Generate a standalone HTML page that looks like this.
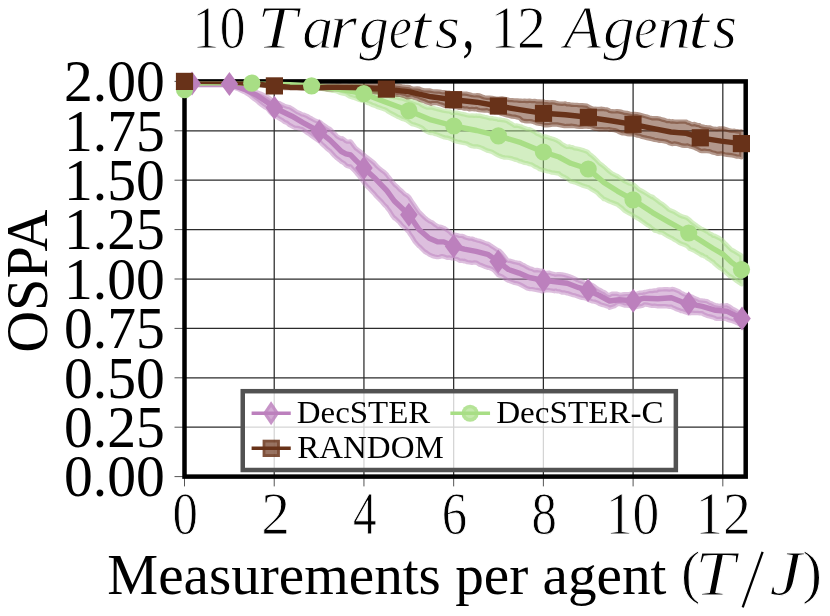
<!DOCTYPE html>
<html><head><meta charset="utf-8"><title>chart</title>
<style>html,body{margin:0;padding:0;background:#fff}body{width:830px;height:616px;overflow:hidden;font-family:"Liberation Serif",serif}</style></head>
<body>
<svg width="830" height="616" viewBox="0 0 830 616" style="display:block">
<rect width="830" height="616" fill="#fff"/>
<g stroke="#2b2b2b" stroke-width="1.25"><line x1="274.22" y1="81.4" x2="274.22" y2="476.6"/><line x1="363.94" y1="81.4" x2="363.94" y2="476.6"/><line x1="453.66" y1="81.4" x2="453.66" y2="476.6"/><line x1="543.38" y1="81.4" x2="543.38" y2="476.6"/><line x1="633.10" y1="81.4" x2="633.10" y2="476.6"/><line x1="722.82" y1="81.4" x2="722.82" y2="476.6"/><line x1="184.5" y1="427.20" x2="745.7" y2="427.20"/><line x1="184.5" y1="377.80" x2="745.7" y2="377.80"/><line x1="184.5" y1="328.40" x2="745.7" y2="328.40"/><line x1="184.5" y1="279.00" x2="745.7" y2="279.00"/><line x1="184.5" y1="229.60" x2="745.7" y2="229.60"/><line x1="184.5" y1="180.20" x2="745.7" y2="180.20"/><line x1="184.5" y1="130.80" x2="745.7" y2="130.80"/></g>
<g stroke="#555" stroke-width="1"><line x1="184.50" y1="476.6" x2="184.50" y2="486.40000000000003"/><line x1="274.22" y1="476.6" x2="274.22" y2="486.40000000000003"/><line x1="363.94" y1="476.6" x2="363.94" y2="486.40000000000003"/><line x1="453.66" y1="476.6" x2="453.66" y2="486.40000000000003"/><line x1="543.38" y1="476.6" x2="543.38" y2="486.40000000000003"/><line x1="633.10" y1="476.6" x2="633.10" y2="486.40000000000003"/><line x1="722.82" y1="476.6" x2="722.82" y2="486.40000000000003"/><line x1="174.5" y1="476.60" x2="184.5" y2="476.60"/><line x1="174.5" y1="427.20" x2="184.5" y2="427.20"/><line x1="174.5" y1="377.80" x2="184.5" y2="377.80"/><line x1="174.5" y1="328.40" x2="184.5" y2="328.40"/><line x1="174.5" y1="279.00" x2="184.5" y2="279.00"/><line x1="174.5" y1="229.60" x2="184.5" y2="229.60"/><line x1="174.5" y1="180.20" x2="184.5" y2="180.20"/><line x1="174.5" y1="130.80" x2="184.5" y2="130.80"/><line x1="174.5" y1="81.40" x2="184.5" y2="81.40"/></g>
<defs><filter id="gs" x="-5%" y="-20%" width="110%" height="140%" color-interpolation-filters="sRGB"><feColorMatrix type="saturate" values="0"/></filter><clipPath id="ax"><rect x="184.5" y="81.4" width="561.2" height="395.2"/></clipPath></defs>
<g clip-path="url(#ax)">
<path d="M192.0,83.0 L194.5,83.2 L197.0,83.2 L199.5,83.4 L200.0,83.3 L202.0,83.5 L204.5,83.4 L207.0,83.6 L209.5,83.5 L212.0,83.6 L214.5,83.5 L217.0,83.5 L219.5,83.4 L222.0,83.5 L224.5,83.5 L227.0,83.5 L229.4,83.4 L229.5,83.5 L232.0,84.2 L234.5,84.9 L237.0,85.7 L239.5,86.4 L242.0,87.3 L244.2,87.8 L244.5,87.8 L247.0,88.8 L249.5,89.5 L252.0,90.4 L254.5,91.4 L256.3,92.0 L257.0,92.3 L259.5,93.2 L262.0,94.3 L264.5,95.4 L267.0,96.7 L268.3,97.2 L269.5,98.3 L272.0,100.4 L274.4,102.6 L274.5,102.5 L277.0,102.7 L279.5,103.2 L282.0,104.6 L284.5,105.7 L287.0,106.7 L289.5,107.2 L292.0,108.6 L294.5,110.3 L297.0,112.0 L299.5,113.0 L302.0,114.4 L303.4,114.6 L304.5,114.9 L307.0,116.0 L309.5,117.5 L312.0,118.8 L314.5,120.2 L317.0,121.2 L319.2,122.1 L319.5,121.8 L322.0,123.8 L324.5,125.5 L327.0,127.3 L329.5,128.8 L330.0,129.0 L332.0,131.1 L334.5,133.6 L337.0,136.3 L339.5,137.8 L341.4,138.7 L342.0,138.2 L344.5,139.8 L345.9,141.1 L347.0,141.6 L349.5,141.5 L350.5,141.4 L352.0,143.2 L354.5,146.6 L356.1,148.6 L357.0,149.1 L359.5,151.1 L362.0,153.0 L363.9,154.8 L364.5,155.4 L367.0,157.4 L369.5,159.2 L372.0,161.2 L374.5,163.3 L375.5,164.6 L377.0,166.2 L379.5,168.5 L382.0,170.4 L384.5,172.3 L386.8,174.6 L387.0,175.0 L389.5,178.2 L392.0,181.3 L394.3,184.1 L394.5,184.5 L397.0,186.6 L399.5,189.2 L402.0,191.3 L404.5,193.8 L407.0,195.3 L408.9,196.9 L409.5,197.8 L412.0,201.6 L414.5,205.3 L417.0,208.9 L419.0,211.8 L419.5,212.4 L422.0,214.9 L424.5,217.3 L427.0,219.5 L429.2,220.9 L429.5,221.3 L432.0,222.2 L434.5,224.3 L437.0,225.9 L438.0,226.9 L439.5,226.6 L442.0,227.2 L443.8,228.0 L444.5,228.2 L447.0,230.0 L449.5,231.7 L452.0,234.1 L453.6,234.6 L454.5,234.6 L457.0,235.1 L459.5,235.9 L462.0,235.9 L464.3,236.6 L464.5,237.1 L467.0,237.9 L469.5,238.5 L472.0,238.6 L474.5,239.6 L476.0,239.9 L477.0,240.4 L479.5,240.9 L482.0,241.8 L484.5,242.8 L487.0,243.7 L487.7,243.7 L489.5,244.7 L492.0,246.4 L494.5,248.0 L497.0,249.8 L498.2,250.4 L499.5,250.9 L502.0,253.4 L504.5,256.5 L507.0,259.7 L508.5,260.9 L509.5,260.6 L512.0,261.3 L514.5,262.1 L517.0,262.6 L519.0,263.1 L519.5,263.0 L522.0,264.5 L524.5,265.6 L527.0,267.1 L529.2,268.0 L529.5,268.4 L532.0,268.9 L534.5,270.2 L537.0,270.0 L539.5,270.4 L542.0,270.7 L543.5,272.2 L544.5,272.6 L547.0,272.9 L549.5,272.7 L552.0,273.7 L554.5,274.2 L555.5,274.6 L557.0,274.3 L559.5,274.3 L562.0,274.4 L564.5,274.9 L567.0,275.8 L567.2,275.7 L569.5,276.4 L572.0,277.3 L574.5,278.4 L577.0,279.8 L578.9,280.4 L579.5,280.8 L582.0,281.6 L584.5,282.8 L587.0,283.6 L588.1,283.9 L589.5,283.8 L592.0,285.0 L594.5,286.4 L597.0,288.4 L599.4,289.8 L599.5,289.7 L602.0,291.2 L604.5,292.2 L607.0,294.3 L609.5,295.2 L609.6,295.0 L612.0,293.8 L614.5,293.8 L617.0,293.8 L619.3,294.6 L619.5,294.7 L622.0,294.5 L624.5,294.2 L627.0,294.1 L629.5,294.0 L632.0,293.8 L633.2,294.1 L634.5,294.0 L637.0,293.6 L639.5,292.8 L642.0,292.8 L644.3,292.0 L644.5,292.4 L647.0,291.7 L649.5,291.0 L652.0,291.0 L654.5,290.5 L657.0,290.5 L657.8,289.6 L659.5,289.5 L662.0,289.4 L664.5,289.3 L667.0,289.3 L669.5,289.5 L671.3,289.2 L672.0,289.0 L674.5,289.4 L677.0,290.5 L679.5,291.6 L681.0,292.8 L682.0,293.2 L684.5,294.5 L687.0,295.2 L688.7,295.5 L689.5,295.7 L692.0,296.7 L694.5,298.1 L697.0,299.0 L699.5,300.2 L702.0,300.5 L702.2,300.6 L704.5,300.8 L707.0,301.2 L709.5,302.7 L712.0,303.6 L714.5,304.9 L715.7,305.3 L717.0,305.5 L719.5,306.1 L722.0,305.5 L724.5,305.6 L727.0,305.2 L727.2,305.6 L729.5,306.6 L732.0,308.4 L734.5,309.7 L737.0,311.2 L739.5,312.5 L742.0,313.4 L742.0,325.2 L739.5,324.2 L737.0,323.1 L734.5,321.8 L732.0,321.0 L729.5,320.3 L727.2,319.6 L727.0,319.0 L724.5,318.8 L722.0,318.7 L719.5,318.9 L717.0,318.9 L715.7,318.6 L714.5,317.8 L712.0,317.0 L709.5,316.4 L707.0,315.8 L704.5,314.8 L702.2,313.5 L702.0,313.3 L699.5,313.2 L697.0,312.9 L694.5,313.0 L692.0,312.8 L689.5,313.4 L688.7,313.4 L687.0,312.8 L684.5,311.9 L682.0,311.0 L681.0,311.0 L679.5,310.3 L677.0,309.4 L674.5,308.2 L672.0,307.3 L671.3,306.6 L669.5,306.8 L667.0,306.4 L664.5,306.1 L662.0,306.2 L659.5,306.2 L657.8,306.3 L657.0,306.1 L654.5,305.8 L652.0,305.9 L649.5,305.3 L647.0,304.7 L644.5,304.4 L644.3,304.8 L642.0,305.9 L639.5,306.4 L637.0,306.9 L634.5,307.3 L633.2,307.3 L632.0,306.4 L629.5,305.9 L627.0,305.5 L624.5,305.5 L622.0,304.6 L619.5,303.9 L619.3,303.7 L617.0,304.5 L614.5,306.2 L612.0,306.9 L609.6,307.7 L609.5,307.3 L607.0,306.3 L604.5,305.5 L602.0,304.8 L599.5,304.0 L599.4,303.7 L597.0,302.5 L594.5,301.7 L592.0,301.3 L589.5,300.3 L588.1,299.6 L587.0,298.8 L584.5,298.2 L582.0,297.8 L579.5,297.1 L578.9,296.8 L577.0,296.2 L574.5,295.3 L572.0,294.8 L569.5,293.9 L567.2,293.1 L567.0,293.3 L564.5,292.5 L562.0,292.5 L559.5,291.4 L557.0,291.2 L555.5,290.6 L554.5,291.2 L552.0,290.7 L549.5,290.3 L547.0,290.0 L544.5,290.7 L543.5,291.3 L542.0,291.3 L539.5,290.5 L537.0,290.0 L534.5,289.6 L532.0,289.1 L529.5,289.0 L529.2,288.9 L527.0,288.3 L524.5,286.9 L522.0,285.5 L519.5,284.2 L519.0,284.0 L517.0,283.3 L514.5,282.9 L512.0,282.0 L509.5,281.0 L508.5,280.7 L507.0,280.0 L504.5,278.2 L502.0,276.5 L499.5,275.5 L498.2,275.2 L497.0,273.7 L494.5,270.8 L492.0,269.0 L489.5,267.9 L487.7,267.7 L487.0,267.4 L484.5,266.6 L482.0,265.4 L479.5,264.6 L477.0,263.0 L476.0,262.6 L474.5,262.4 L472.0,262.8 L469.5,262.4 L467.0,262.1 L464.5,260.9 L464.3,261.3 L462.0,260.7 L459.5,260.7 L457.0,259.1 L454.5,258.7 L453.6,258.0 L452.0,258.3 L449.5,257.5 L447.0,257.7 L444.5,256.7 L443.8,256.6 L442.0,256.1 L439.5,256.8 L438.0,257.1 L437.0,257.1 L434.5,256.6 L432.0,255.8 L429.5,254.8 L429.2,254.5 L427.0,253.0 L424.5,251.5 L422.0,249.0 L419.5,246.4 L419.0,246.4 L417.0,244.1 L414.5,241.2 L412.0,237.0 L409.5,233.5 L408.9,232.0 L407.0,230.3 L404.5,227.7 L402.0,225.6 L399.5,222.5 L397.0,220.2 L394.5,217.8 L394.3,218.3 L392.0,215.1 L389.5,210.9 L387.0,207.8 L386.8,207.2 L384.5,205.1 L382.0,202.1 L379.5,199.5 L377.0,197.0 L375.5,195.4 L374.5,194.1 L372.0,191.4 L369.5,188.7 L367.0,186.3 L364.5,183.5 L363.9,182.5 L362.0,180.0 L359.5,176.6 L357.0,173.8 L356.1,172.5 L354.5,170.8 L352.0,168.3 L350.5,166.5 L349.5,166.7 L347.0,165.9 L345.9,165.2 L344.5,163.6 L342.0,162.0 L341.4,161.7 L339.5,160.1 L337.0,158.3 L334.5,156.0 L332.0,153.2 L330.0,150.9 L329.5,150.6 L327.0,148.8 L324.5,146.2 L322.0,144.1 L319.5,141.3 L319.2,141.3 L317.0,139.7 L314.5,138.0 L312.0,136.2 L309.5,134.2 L307.0,132.8 L304.5,130.8 L303.4,130.1 L302.0,129.2 L299.5,128.5 L297.0,127.9 L294.5,127.7 L292.0,126.3 L289.5,125.1 L287.0,122.9 L284.5,122.0 L282.0,120.1 L279.5,118.7 L277.0,116.9 L274.5,115.6 L274.4,115.8 L272.0,113.8 L269.5,111.4 L268.3,109.6 L267.0,108.3 L264.5,107.0 L262.0,105.3 L259.5,103.3 L257.0,101.0 L256.3,100.4 L254.5,99.2 L252.0,97.2 L249.5,95.1 L247.0,93.6 L244.5,92.0 L244.2,91.9 L242.0,90.9 L239.5,89.7 L237.0,88.6 L234.5,87.6 L232.0,86.6 L229.5,85.5 L229.4,85.5 L227.0,85.5 L224.5,85.4 L222.0,85.3 L219.5,85.4 L217.0,85.4 L214.5,85.4 L212.0,85.3 L209.5,85.2 L207.0,85.1 L204.5,85.2 L202.0,85.2 L200.0,85.3 L199.5,85.3 L197.0,85.1 L194.5,84.8 L192.0,84.6Z" fill="#bc80bd" fill-opacity="0.5" stroke="#bc80bd" stroke-opacity="0.5" stroke-width="4.4" stroke-linejoin="round"/>
<path d="M184.5,89.0 L187.0,87.1 L189.5,85.3 L190.0,84.9 L192.0,84.2 L194.5,83.3 L197.0,82.4 L199.5,82.4 L202.0,82.3 L204.5,82.3 L207.0,82.4 L209.5,82.4 L212.0,82.3 L214.5,82.2 L217.0,82.2 L219.5,82.2 L222.0,82.1 L224.5,82.1 L225.0,82.1 L227.0,82.1 L229.5,82.1 L232.0,82.2 L234.5,82.3 L237.0,82.3 L239.5,82.3 L242.0,82.4 L244.5,82.4 L247.0,82.5 L249.5,82.5 L251.8,82.6 L252.0,82.7 L254.5,82.7 L257.0,82.8 L259.5,82.8 L262.0,83.0 L264.5,83.1 L267.0,83.1 L269.5,83.1 L272.0,83.1 L274.5,83.2 L277.0,83.3 L279.5,83.2 L282.0,83.4 L284.5,83.5 L287.0,83.7 L289.5,83.7 L290.0,83.6 L292.0,83.6 L294.5,83.7 L297.0,83.9 L299.5,84.0 L302.0,84.1 L304.5,84.1 L307.0,84.3 L309.5,84.5 L311.6,84.6 L312.0,84.6 L314.5,84.7 L317.0,84.8 L319.5,84.9 L322.0,85.0 L324.5,85.4 L327.0,85.7 L329.5,85.7 L332.0,85.8 L334.5,85.9 L337.0,86.2 L338.6,86.3 L339.5,86.6 L342.0,86.7 L344.5,86.8 L347.0,86.5 L349.5,86.6 L352.0,86.1 L354.5,86.6 L357.0,85.8 L359.5,86.1 L362.0,85.8 L363.8,86.0 L364.5,86.2 L367.0,87.0 L369.5,88.7 L372.0,90.0 L374.5,90.9 L377.0,91.2 L379.5,92.2 L382.0,93.6 L384.5,94.7 L386.7,95.3 L387.0,95.1 L389.5,96.0 L392.0,96.5 L394.5,97.3 L397.0,97.3 L399.5,98.1 L402.0,98.4 L404.5,99.3 L407.0,99.9 L408.9,99.6 L409.5,100.2 L412.0,100.9 L414.5,102.1 L417.0,102.7 L419.5,103.4 L422.0,105.3 L424.5,106.5 L427.0,107.6 L429.5,107.6 L431.1,107.5 L432.0,107.6 L434.5,108.3 L437.0,109.0 L439.5,109.6 L442.0,110.3 L444.5,110.8 L447.0,111.2 L449.5,111.4 L452.0,112.7 L453.8,112.8 L454.5,112.8 L457.0,112.6 L459.5,113.3 L462.0,114.0 L464.5,114.4 L467.0,115.2 L469.5,115.6 L472.0,115.5 L474.5,115.8 L476.6,115.4 L477.0,115.7 L479.5,115.7 L482.0,116.3 L484.5,116.9 L487.0,117.4 L489.5,118.3 L492.0,118.2 L494.5,118.8 L497.0,119.1 L498.4,119.8 L499.5,119.5 L502.0,120.0 L504.5,120.3 L507.0,120.9 L509.5,122.6 L512.0,124.0 L514.5,125.8 L517.0,125.5 L519.5,126.2 L521.0,126.4 L522.0,127.1 L524.5,128.0 L527.0,128.9 L529.5,129.2 L532.0,130.5 L534.5,131.8 L537.0,133.7 L539.5,134.6 L542.0,136.1 L543.4,136.3 L544.5,136.4 L547.0,137.0 L549.5,137.9 L552.0,138.7 L554.5,139.4 L557.0,140.6 L559.0,141.7 L559.5,142.0 L562.0,144.1 L564.5,145.5 L567.0,146.9 L569.5,146.5 L570.7,147.0 L572.0,147.1 L574.5,148.3 L577.0,148.6 L579.5,149.2 L582.0,149.9 L584.5,150.7 L587.0,151.6 L588.2,152.4 L589.5,153.9 L592.0,155.8 L594.5,158.0 L597.0,160.6 L599.5,163.2 L602.0,165.1 L603.8,166.5 L604.5,167.0 L607.0,169.3 L609.5,171.5 L612.0,173.4 L614.5,174.7 L617.0,176.1 L617.4,175.9 L619.5,177.7 L622.0,179.3 L624.5,181.1 L627.0,182.2 L629.5,183.4 L632.0,184.2 L633.0,184.4 L634.5,185.4 L637.0,187.7 L639.5,189.7 L642.0,191.0 L644.5,192.4 L647.0,194.0 L649.5,195.6 L652.0,197.0 L652.5,196.7 L654.5,198.5 L657.0,200.3 L659.5,202.3 L662.0,203.8 L664.5,205.8 L667.0,207.9 L668.5,209.3 L669.5,209.9 L672.0,211.0 L674.5,212.1 L677.0,213.7 L679.5,215.2 L682.0,216.3 L684.5,217.0 L687.0,217.9 L688.7,219.2 L689.5,219.9 L692.0,222.3 L694.5,224.1 L697.0,225.9 L699.5,227.6 L701.7,229.0 L702.0,229.0 L704.5,230.2 L706.4,231.4 L707.0,231.3 L709.5,233.4 L712.0,234.5 L713.1,235.8 L714.5,235.7 L717.0,237.0 L719.5,238.3 L722.0,240.0 L722.8,240.9 L724.5,242.8 L727.0,245.2 L729.5,247.8 L730.9,249.2 L732.0,250.0 L734.5,251.3 L737.0,252.8 L739.5,254.4 L741.5,255.7 L741.5,284.4 L739.5,282.8 L737.0,281.2 L734.5,279.2 L732.0,277.3 L730.9,276.5 L729.5,275.9 L727.0,273.7 L724.5,271.2 L722.8,269.8 L722.0,269.2 L719.5,267.8 L717.0,265.7 L714.5,263.6 L713.1,261.8 L712.0,261.5 L709.5,259.6 L707.0,258.1 L706.4,257.1 L704.5,256.5 L702.0,254.9 L701.7,255.4 L699.5,253.8 L697.0,252.4 L694.5,250.8 L692.0,249.7 L689.5,248.8 L688.7,247.6 L687.0,246.1 L684.5,244.8 L682.0,244.0 L679.5,242.9 L677.0,241.2 L674.5,239.8 L672.0,238.2 L669.5,237.0 L668.5,236.5 L667.0,235.8 L664.5,234.1 L662.0,232.6 L659.5,232.3 L657.0,231.1 L654.5,230.5 L652.5,228.7 L652.0,228.6 L649.5,226.2 L647.0,224.8 L644.5,222.9 L642.0,221.2 L639.5,219.4 L637.0,218.0 L634.5,216.6 L633.0,215.6 L632.0,214.7 L629.5,213.6 L627.0,212.2 L624.5,210.6 L622.0,208.1 L619.5,206.3 L617.4,204.5 L617.0,204.4 L614.5,203.4 L612.0,202.4 L609.5,201.5 L607.0,200.2 L604.5,199.1 L603.8,199.1 L602.0,197.3 L599.5,195.2 L597.0,192.6 L594.5,191.0 L592.0,189.6 L589.5,188.0 L588.2,187.1 L587.0,186.8 L584.5,186.1 L582.0,185.3 L579.5,184.2 L577.0,183.2 L574.5,182.3 L572.0,181.7 L570.7,181.3 L569.5,180.4 L567.0,178.4 L564.5,177.1 L562.0,175.9 L559.5,174.2 L559.0,173.5 L557.0,173.2 L554.5,172.8 L552.0,172.6 L549.5,171.7 L547.0,171.3 L544.5,170.3 L543.4,170.6 L542.0,169.8 L539.5,169.1 L537.0,167.5 L534.5,166.4 L532.0,164.7 L529.5,164.1 L527.0,163.2 L524.5,162.8 L522.0,162.0 L521.0,161.4 L519.5,161.2 L517.0,160.0 L514.5,159.5 L512.0,158.5 L509.5,157.9 L507.0,157.6 L504.5,157.5 L502.0,156.9 L499.5,155.9 L498.4,155.5 L497.0,154.8 L494.5,153.3 L492.0,151.8 L489.5,151.1 L487.0,150.5 L484.5,149.3 L482.0,148.0 L479.5,147.1 L477.0,146.5 L476.6,146.5 L474.5,146.5 L472.0,146.1 L469.5,145.1 L467.0,143.7 L464.5,143.0 L462.0,142.6 L459.5,142.0 L457.0,141.6 L454.5,140.7 L453.8,140.7 L452.0,139.4 L449.5,138.4 L447.0,137.7 L444.5,137.4 L442.0,136.5 L439.5,135.5 L437.0,134.5 L434.5,133.8 L432.0,132.7 L431.1,133.0 L429.5,132.9 L427.0,131.6 L424.5,130.1 L422.0,127.7 L419.5,126.5 L417.0,125.5 L414.5,124.7 L412.0,124.1 L409.5,122.5 L408.9,121.9 L407.0,120.6 L404.5,119.4 L402.0,118.8 L399.5,117.6 L397.0,116.4 L394.5,115.0 L392.0,113.7 L389.5,112.4 L387.0,110.8 L386.7,110.4 L384.5,109.3 L382.0,108.5 L379.5,107.6 L377.0,106.8 L374.5,105.6 L372.0,104.8 L369.5,103.5 L367.0,102.8 L364.5,101.0 L363.8,101.0 L362.0,100.5 L359.5,99.9 L357.0,98.9 L354.5,97.9 L352.0,97.3 L349.5,96.4 L347.0,94.8 L344.5,93.8 L342.0,93.3 L339.5,92.6 L338.6,92.1 L337.0,91.4 L334.5,90.9 L332.0,90.7 L329.5,90.1 L327.0,89.6 L324.5,89.3 L322.0,88.8 L319.5,88.3 L317.0,87.9 L314.5,87.6 L312.0,87.4 L311.6,87.3 L309.5,87.1 L307.0,86.9 L304.5,86.7 L302.0,86.5 L299.5,86.3 L297.0,86.2 L294.5,86.1 L292.0,86.0 L290.0,85.8 L289.5,85.7 L287.0,85.5 L284.5,85.4 L282.0,85.3 L279.5,85.2 L277.0,85.1 L274.5,85.0 L272.0,85.0 L269.5,84.8 L267.0,84.7 L264.5,84.4 L262.0,84.3 L259.5,84.2 L257.0,84.1 L254.5,84.0 L252.0,83.8 L251.8,83.8 L249.5,83.8 L247.0,83.8 L244.5,83.8 L242.0,83.7 L239.5,83.7 L237.0,83.6 L234.5,83.5 L232.0,83.3 L229.5,83.3 L227.0,83.2 L225.0,83.1 L224.5,83.1 L222.0,83.2 L219.5,83.2 L217.0,83.3 L214.5,83.3 L212.0,83.3 L209.5,83.3 L207.0,83.4 L204.5,83.5 L202.0,83.5 L199.5,83.6 L197.0,83.7 L194.5,84.5 L192.0,85.4 L190.0,86.1 L189.5,86.4 L187.0,88.2 L184.5,90.1Z" fill="#a8de85" fill-opacity="0.5" stroke="#a8de85" stroke-opacity="0.5" stroke-width="4.4" stroke-linejoin="round"/>
<path d="M184.5,81.0 L187.0,81.0 L189.5,80.9 L192.0,80.9 L194.5,80.9 L197.0,80.9 L199.5,80.9 L202.0,80.9 L204.5,80.9 L207.0,80.9 L209.5,80.9 L212.0,81.0 L214.5,81.1 L217.0,81.0 L219.5,81.0 L222.0,80.9 L224.5,80.9 L225.0,80.9 L227.0,81.1 L229.5,81.3 L232.0,81.5 L234.5,81.7 L237.0,82.0 L239.5,82.1 L242.0,82.2 L244.5,82.4 L247.0,82.7 L249.5,82.9 L252.0,83.0 L254.5,83.3 L257.0,83.6 L258.0,83.6 L259.5,83.7 L262.0,83.8 L264.5,84.0 L267.0,84.2 L269.5,84.4 L272.0,84.8 L274.4,85.1 L274.5,85.0 L277.0,85.1 L279.5,85.3 L282.0,85.4 L284.5,85.4 L287.0,85.5 L289.5,85.7 L290.0,85.8 L292.0,85.6 L294.5,85.6 L297.0,85.7 L299.5,85.9 L302.0,86.0 L304.5,86.0 L307.0,86.0 L309.5,85.8 L312.0,85.8 L314.5,85.4 L317.0,85.4 L319.5,85.1 L322.0,85.4 L324.5,85.6 L327.0,85.7 L329.5,85.8 L332.0,85.5 L334.5,85.5 L337.0,85.3 L339.5,85.2 L340.0,85.3 L342.0,85.4 L344.5,85.4 L347.0,85.4 L349.5,85.1 L352.0,85.4 L354.5,85.3 L357.0,85.4 L359.5,85.2 L362.0,85.1 L363.6,84.7 L364.5,84.8 L367.0,84.5 L369.5,84.8 L372.0,84.7 L374.5,84.8 L377.0,84.8 L379.5,84.9 L382.0,85.1 L384.5,84.9 L386.4,84.0 L387.0,83.9 L389.5,84.2 L392.0,85.0 L394.5,85.3 L397.0,85.8 L399.5,86.0 L402.0,86.5 L404.5,86.8 L407.0,87.0 L409.5,87.3 L409.7,87.6 L412.0,88.4 L414.5,88.6 L417.0,88.5 L419.5,88.8 L422.0,89.9 L424.5,90.4 L427.0,90.5 L429.5,90.4 L431.1,90.8 L432.0,91.1 L434.5,91.4 L437.0,91.5 L439.5,91.6 L442.0,92.2 L444.5,92.2 L447.0,92.6 L449.5,92.8 L452.0,93.3 L453.5,93.1 L454.5,93.3 L457.0,93.3 L459.5,93.9 L462.0,93.6 L464.5,93.6 L467.0,93.8 L469.5,94.4 L472.0,95.1 L474.5,95.4 L476.6,95.3 L477.0,95.2 L479.5,95.5 L482.0,96.6 L484.5,97.4 L487.0,97.7 L489.5,97.8 L492.0,97.9 L494.5,98.3 L497.0,98.8 L498.4,99.0 L499.5,98.7 L502.0,98.4 L504.5,98.8 L507.0,99.4 L509.5,100.1 L512.0,100.1 L514.5,100.4 L517.0,100.4 L519.5,100.7 L521.0,100.8 L522.0,100.9 L524.5,100.8 L527.0,101.0 L529.5,100.7 L532.0,101.1 L534.5,100.9 L537.0,101.5 L539.5,101.5 L542.0,101.6 L543.5,101.5 L544.5,102.1 L547.0,102.1 L549.5,102.4 L552.0,102.3 L554.5,102.4 L557.0,103.3 L559.5,103.6 L562.0,103.7 L564.5,103.6 L565.3,103.4 L567.0,104.2 L569.5,104.3 L572.0,104.8 L574.5,104.9 L577.0,104.9 L579.5,105.3 L582.0,105.3 L584.5,105.5 L587.0,105.8 L588.4,106.7 L589.5,107.4 L592.0,108.4 L594.5,108.8 L597.0,109.0 L599.5,109.0 L602.0,108.8 L604.5,109.2 L607.0,109.4 L609.3,110.5 L609.5,110.9 L612.0,111.3 L614.5,111.4 L617.0,111.1 L619.5,111.5 L622.0,112.0 L624.5,112.8 L627.0,112.9 L629.5,113.6 L632.0,114.1 L633.0,114.4 L634.5,114.0 L637.0,114.1 L639.5,114.7 L642.0,115.3 L644.5,116.0 L647.0,116.7 L649.5,117.5 L652.0,118.2 L653.6,118.3 L654.5,118.2 L657.0,118.3 L659.5,118.6 L662.0,119.5 L664.5,120.0 L667.0,121.1 L669.5,121.0 L671.0,121.5 L672.0,121.3 L674.5,121.6 L677.0,121.8 L679.5,121.6 L682.0,121.6 L684.5,121.6 L686.4,121.7 L687.0,122.4 L689.5,123.1 L692.0,124.4 L694.5,124.0 L697.0,124.8 L699.5,125.2 L700.3,126.0 L702.0,126.5 L704.5,126.9 L707.0,127.2 L709.5,127.4 L712.0,128.3 L714.5,128.8 L717.0,129.1 L719.5,128.5 L721.1,128.7 L722.0,128.4 L724.5,128.7 L727.0,129.6 L729.5,130.5 L732.0,130.9 L734.5,130.8 L737.0,131.3 L739.5,131.6 L741.3,131.4 L741.3,157.2 L739.5,156.6 L737.0,156.6 L734.5,155.8 L732.0,155.3 L729.5,155.0 L727.0,154.8 L724.5,154.3 L722.0,153.5 L721.1,153.4 L719.5,153.7 L717.0,153.7 L714.5,152.8 L712.0,152.3 L709.5,151.3 L707.0,151.1 L704.5,150.8 L702.0,151.0 L700.3,150.8 L699.5,150.2 L697.0,148.9 L694.5,147.7 L692.0,146.9 L689.5,146.3 L687.0,145.4 L686.4,145.7 L684.5,145.8 L682.0,145.5 L679.5,144.7 L677.0,143.9 L674.5,143.5 L672.0,144.0 L671.0,143.7 L669.5,143.2 L667.0,141.9 L664.5,141.3 L662.0,140.9 L659.5,140.8 L657.0,140.2 L654.5,139.8 L653.6,139.5 L652.0,139.1 L649.5,138.5 L647.0,138.0 L644.5,137.4 L642.0,136.9 L639.5,135.8 L637.0,135.5 L634.5,134.4 L633.0,134.3 L632.0,134.4 L629.5,134.2 L627.0,134.0 L624.5,133.3 L622.0,133.2 L619.5,132.2 L617.0,130.9 L614.5,130.2 L612.0,129.8 L609.5,129.7 L609.3,129.3 L607.0,129.4 L604.5,129.4 L602.0,129.3 L599.5,129.2 L597.0,128.9 L594.5,128.5 L592.0,127.4 L589.5,126.7 L588.4,126.7 L587.0,126.5 L584.5,126.5 L582.0,126.7 L579.5,126.9 L577.0,126.6 L574.5,126.2 L572.0,125.8 L569.5,126.0 L567.0,125.9 L565.3,126.1 L564.5,126.0 L562.0,125.5 L559.5,125.0 L557.0,124.5 L554.5,124.4 L552.0,124.5 L549.5,125.0 L547.0,125.3 L544.5,125.2 L543.5,124.4 L542.0,124.2 L539.5,123.7 L537.0,123.4 L534.5,122.3 L532.0,121.5 L529.5,121.1 L527.0,121.3 L524.5,121.0 L522.0,120.3 L521.0,119.4 L519.5,118.0 L517.0,117.3 L514.5,116.7 L512.0,116.6 L509.5,115.9 L507.0,115.4 L504.5,114.7 L502.0,114.0 L499.5,112.9 L498.4,112.7 L497.0,112.2 L494.5,112.2 L492.0,111.5 L489.5,111.2 L487.0,110.3 L484.5,110.5 L482.0,110.4 L479.5,110.1 L477.0,109.5 L476.6,109.0 L474.5,109.3 L472.0,108.9 L469.5,109.3 L467.0,108.5 L464.5,108.6 L462.0,107.9 L459.5,107.9 L457.0,107.1 L454.5,107.1 L453.5,106.8 L452.0,106.4 L449.5,106.2 L447.0,105.8 L444.5,105.7 L442.0,104.7 L439.5,104.0 L437.0,103.1 L434.5,103.0 L432.0,103.0 L431.1,103.7 L429.5,103.2 L427.0,102.5 L424.5,101.2 L422.0,100.4 L419.5,99.6 L417.0,98.3 L414.5,97.7 L412.0,96.5 L409.7,96.8 L409.5,97.1 L407.0,97.3 L404.5,96.1 L402.0,95.4 L399.5,94.7 L397.0,94.9 L394.5,94.4 L392.0,94.2 L389.5,93.3 L387.0,92.9 L386.4,93.3 L384.5,93.5 L382.0,93.0 L379.5,92.4 L377.0,92.2 L374.5,92.2 L372.0,91.8 L369.5,91.3 L367.0,90.5 L364.5,89.8 L363.6,89.9 L362.0,90.3 L359.5,90.4 L357.0,90.5 L354.5,90.0 L352.0,89.9 L349.5,89.2 L347.0,89.4 L344.5,89.0 L342.0,89.1 L340.0,89.0 L339.5,89.1 L337.0,89.1 L334.5,89.1 L332.0,89.4 L329.5,89.2 L327.0,89.2 L324.5,88.9 L322.0,88.8 L319.5,88.7 L317.0,88.8 L314.5,88.8 L312.0,88.8 L309.5,88.5 L307.0,88.6 L304.5,88.8 L302.0,88.7 L299.5,88.6 L297.0,88.3 L294.5,88.3 L292.0,88.2 L290.0,88.2 L289.5,88.1 L287.0,88.1 L284.5,88.0 L282.0,87.8 L279.5,87.4 L277.0,87.0 L274.5,86.8 L274.4,86.9 L272.0,86.6 L269.5,86.3 L267.0,85.9 L264.5,85.7 L262.0,85.4 L259.5,85.1 L258.0,84.9 L257.0,84.9 L254.5,84.6 L252.0,84.5 L249.5,84.2 L247.0,84.0 L244.5,83.8 L242.0,83.5 L239.5,83.2 L237.0,83.0 L234.5,82.8 L232.0,82.5 L229.5,82.4 L227.0,82.1 L225.0,82.0 L224.5,82.0 L222.0,82.0 L219.5,82.0 L217.0,82.0 L214.5,82.0 L212.0,82.0 L209.5,81.9 L207.0,81.8 L204.5,81.8 L202.0,81.8 L199.5,81.8 L197.0,81.8 L194.5,81.8 L192.0,81.8 L189.5,81.9 L187.0,81.9 L184.5,81.9Z" fill="#683219" fill-opacity="0.5" stroke="#683219" stroke-opacity="0.5" stroke-width="4.4" stroke-linejoin="round"/>
</g>
<rect x="184.5" y="81.4" width="561.2" height="395.2" fill="none" stroke="#000" stroke-width="4.5"/>
<g clip-path="url(#ax)">
<path d="M192.0,83.5 L200.0,84.0 L229.4,84.1 L244.2,89.1 L256.3,95.1 L268.3,102.9 L274.4,107.8 L292.0,116.2 L303.4,122.8 L319.2,131.4 L330.0,140.2 L341.4,151.5 L345.9,153.8 L350.5,154.9 L356.1,160.6 L363.9,168.1 L375.5,178.8 L386.8,190.7 L394.3,201.0 L408.9,214.8 L419.0,229.5 L429.2,238.2 L438.0,241.9 L443.8,241.9 L453.6,246.3 L464.3,249.2 L476.0,251.4 L487.7,254.3 L498.2,261.6 L508.5,269.5 L519.0,273.1 L529.2,277.5 L543.5,280.4 L555.5,281.9 L567.2,283.3 L578.9,287.7 L588.1,290.2 L599.4,295.5 L609.6,301.0 L619.3,299.7 L633.2,300.7 L644.3,298.2 L657.8,298.7 L671.3,297.8 L681.0,301.6 L688.7,303.6 L702.2,306.4 L715.7,310.3 L727.2,311.3 L742.0,318.6" fill="none" stroke="#bc80bd" stroke-width="5.4" stroke-linejoin="round" stroke-linecap="butt"/>
<path d="M184.5,89.6 L190.0,85.5 L197.0,83.0 L225.0,82.6 L251.8,83.2 L290.0,84.6 L311.6,85.8 L338.6,89.1 L363.8,93.7 L386.7,102.6 L408.9,110.7 L431.1,119.9 L453.8,126.0 L476.6,130.5 L498.4,135.9 L521.0,142.7 L543.4,152.0 L559.0,157.0 L570.7,163.3 L588.2,169.0 L603.8,182.4 L617.4,191.1 L633.0,199.8 L652.5,212.6 L668.5,221.8 L688.7,233.0 L701.7,241.3 L706.4,244.3 L713.1,248.5 L722.8,254.1 L730.9,261.8 L741.5,269.6" fill="none" stroke="#a8de85" stroke-width="5.4" stroke-linejoin="round" stroke-linecap="butt"/>
<path d="M184.5,81.4 L225.0,81.5 L242.0,82.9 L258.0,84.3 L274.4,85.9 L290.0,87.2 L340.0,87.4 L363.6,87.7 L386.4,89.1 L409.7,91.9 L431.1,96.8 L453.5,99.7 L476.6,102.2 L498.4,106.0 L521.0,109.9 L543.5,113.3 L565.3,114.7 L588.4,117.3 L609.3,120.5 L633.0,124.3 L653.6,128.6 L671.0,132.0 L686.4,133.4 L700.3,137.8 L721.1,141.1 L741.4,143.6" fill="none" stroke="#683219" stroke-width="5.4" stroke-linejoin="round" stroke-linecap="butt"/>
</g>
<path d="M192.0,71.5 L200.8,83.5 L192.0,95.5 L183.2,83.5Z" fill="#bc80bd" fill-opacity="1"/>
<path d="M229.4,72.1 L238.2,84.1 L229.4,96.1 L220.6,84.1Z" fill="#bc80bd" fill-opacity="1"/>
<path d="M274.4,95.8 L283.2,107.8 L274.4,119.8 L265.6,107.8Z" fill="#bc80bd" fill-opacity="1"/>
<path d="M319.2,119.4 L328.0,131.4 L319.2,143.4 L310.4,131.4Z" fill="#bc80bd" fill-opacity="1"/>
<path d="M363.9,156.1 L372.7,168.1 L363.9,180.1 L355.1,168.1Z" fill="#bc80bd" fill-opacity="1"/>
<path d="M408.9,202.8 L417.7,214.8 L408.9,226.8 L400.1,214.8Z" fill="#bc80bd" fill-opacity="1"/>
<path d="M453.6,234.3 L462.4,246.3 L453.6,258.3 L444.8,246.3Z" fill="#bc80bd" fill-opacity="1"/>
<path d="M498.2,249.6 L507.0,261.6 L498.2,273.6 L489.4,261.6Z" fill="#bc80bd" fill-opacity="1"/>
<path d="M543.5,268.4 L552.3,280.4 L543.5,292.4 L534.7,280.4Z" fill="#bc80bd" fill-opacity="1"/>
<path d="M588.1,278.2 L596.9,290.2 L588.1,302.2 L579.3,290.2Z" fill="#bc80bd" fill-opacity="1"/>
<path d="M633.2,288.7 L642.0,300.7 L633.2,312.7 L624.4,300.7Z" fill="#bc80bd" fill-opacity="1"/>
<path d="M688.7,291.6 L697.5,303.6 L688.7,315.6 L679.9,303.6Z" fill="#bc80bd" fill-opacity="1"/>
<path d="M742.0,306.6 L750.8,318.6 L742.0,330.6 L733.2,318.6Z" fill="#bc80bd" fill-opacity="1"/>
<circle cx="184.5" cy="89.6" r="8.6" fill="#a8de85" fill-opacity="1"/>
<circle cx="251.8" cy="83.2" r="8.6" fill="#a8de85" fill-opacity="1"/>
<circle cx="311.6" cy="85.8" r="8.6" fill="#a8de85" fill-opacity="1"/>
<circle cx="363.8" cy="93.7" r="8.6" fill="#a8de85" fill-opacity="1"/>
<circle cx="408.9" cy="110.7" r="8.6" fill="#a8de85" fill-opacity="1"/>
<circle cx="453.8" cy="126.0" r="8.6" fill="#a8de85" fill-opacity="1"/>
<circle cx="498.4" cy="135.9" r="8.6" fill="#a8de85" fill-opacity="1"/>
<circle cx="543.4" cy="152.0" r="8.6" fill="#a8de85" fill-opacity="1"/>
<circle cx="588.2" cy="169.0" r="8.6" fill="#a8de85" fill-opacity="1"/>
<circle cx="633.0" cy="199.8" r="8.6" fill="#a8de85" fill-opacity="1"/>
<circle cx="688.7" cy="233.0" r="8.6" fill="#a8de85" fill-opacity="1"/>
<circle cx="741.5" cy="269.6" r="8.6" fill="#a8de85" fill-opacity="1"/>
<rect x="175.9" y="72.8" width="17.2" height="17.2" fill="#683219" fill-opacity="1"/>
<rect x="265.8" y="77.3" width="17.2" height="17.2" fill="#683219" fill-opacity="1"/>
<rect x="377.8" y="80.5" width="17.2" height="17.2" fill="#683219" fill-opacity="1"/>
<rect x="444.9" y="91.1" width="17.2" height="17.2" fill="#683219" fill-opacity="1"/>
<rect x="489.8" y="97.4" width="17.2" height="17.2" fill="#683219" fill-opacity="1"/>
<rect x="534.9" y="104.7" width="17.2" height="17.2" fill="#683219" fill-opacity="1"/>
<rect x="579.8" y="108.7" width="17.2" height="17.2" fill="#683219" fill-opacity="1"/>
<rect x="624.4" y="115.7" width="17.2" height="17.2" fill="#683219" fill-opacity="1"/>
<rect x="691.7" y="129.2" width="17.2" height="17.2" fill="#683219" fill-opacity="1"/>
<rect x="732.8" y="135.0" width="17.2" height="17.2" fill="#683219" fill-opacity="1"/>
<rect x="242.75" y="391.2" width="433.1" height="78.8" fill="#fff" fill-opacity="0.8" stroke="#525252" stroke-width="4.5"/>
<path d="M271.1,401.2 L279.2,413.2 L271.1,425.2 L263.0,413.2Z" fill="#bc80bd" fill-opacity="0.85"/>
<path d="M271.1,406.9 L275.4,413.2 L271.1,419.6 L266.8,413.2Z" fill="#fff" fill-opacity="0.22"/>
<line x1="251.6" y1="413.25" x2="290.75" y2="413.25" stroke="#bc80bd" stroke-width="3.6"/>
<rect x="262.6" y="439.7" width="17.3" height="17.3" fill="#683219" fill-opacity="0.85"/>
<rect x="265.4" y="442.5" width="11.6" height="11.6" fill="#fff" fill-opacity="0.2"/>
<line x1="251.6" y1="448.3" x2="290.75" y2="448.3" stroke="#683219" stroke-width="3.6"/>
<circle cx="470.1" cy="413.2" r="8.55" fill="#a8de85" fill-opacity="0.85"/>
<circle cx="470.1" cy="413.2" r="4.9" fill="#fff" fill-opacity="0.22"/>
<line x1="450.4" y1="413.25" x2="490.05" y2="413.25" stroke="#a8de85" stroke-width="3.6"/>
<text transform="translate(296.79,422.60) scale(1.0092,1.0000)" font-family="Liberation Serif, serif" font-size="32.6" filter="url(#gs)" fill="#000" xml:space="preserve">DecSTER</text>
<text transform="translate(297.19,457.80) scale(1.0126,1.0000)" font-family="Liberation Serif, serif" font-size="32.6" filter="url(#gs)" fill="#000" xml:space="preserve">RANDOM</text>
<text transform="translate(496.18,422.60) scale(1.0166,1.0000)" font-family="Liberation Serif, serif" font-size="32.6" filter="url(#gs)" fill="#000" xml:space="preserve">DecSTER-C</text>
<text transform="translate(64.01,496.30) scale(0.9939,1.0350)" font-family="Liberation Serif, serif" font-size="58" fill="#000" xml:space="preserve">0.00</text>
<text transform="translate(64.01,446.90) scale(0.9939,1.0350)" font-family="Liberation Serif, serif" font-size="58" fill="#000" xml:space="preserve">0.25</text>
<text transform="translate(64.01,397.50) scale(0.9939,1.0350)" font-family="Liberation Serif, serif" font-size="58" fill="#000" xml:space="preserve">0.50</text>
<text transform="translate(64.01,348.10) scale(0.9939,1.0350)" font-family="Liberation Serif, serif" font-size="58" fill="#000" xml:space="preserve">0.75</text>
<text transform="translate(64.01,298.70) scale(0.9939,1.0350)" font-family="Liberation Serif, serif" font-size="58" fill="#000" xml:space="preserve">1.00</text>
<text transform="translate(64.01,249.30) scale(0.9939,1.0350)" font-family="Liberation Serif, serif" font-size="58" fill="#000" xml:space="preserve">1.25</text>
<text transform="translate(64.01,199.90) scale(0.9939,1.0350)" font-family="Liberation Serif, serif" font-size="58" fill="#000" xml:space="preserve">1.50</text>
<text transform="translate(64.01,150.50) scale(0.9939,1.0350)" font-family="Liberation Serif, serif" font-size="58" fill="#000" xml:space="preserve">1.75</text>
<text transform="translate(64.01,101.10) scale(0.9939,1.0350)" font-family="Liberation Serif, serif" font-size="58" fill="#000" xml:space="preserve">2.00</text>
<text transform="translate(172.61,534.40) scale(0.8462,1.0350)" font-family="Liberation Serif, serif" font-size="60" stroke="#fff" stroke-width="0.9" fill="#000" xml:space="preserve">0</text>
<text transform="translate(261.15,534.40) scale(0.9565,1.0350)" font-family="Liberation Serif, serif" font-size="60" stroke="#fff" stroke-width="0.9" fill="#000" xml:space="preserve">2</text>
<text transform="translate(352.95,534.40) scale(0.7857,1.0350)" font-family="Liberation Serif, serif" font-size="60" stroke="#fff" stroke-width="0.9" fill="#000" xml:space="preserve">4</text>
<text transform="translate(441.77,534.40) scale(0.8462,1.0350)" font-family="Liberation Serif, serif" font-size="60" stroke="#fff" stroke-width="0.9" fill="#000" xml:space="preserve">6</text>
<text transform="translate(531.49,534.40) scale(0.8462,1.0350)" font-family="Liberation Serif, serif" font-size="60" stroke="#fff" stroke-width="0.9" fill="#000" xml:space="preserve">8</text>
<text transform="translate(605.75,534.40) scale(0.8923,1.0350)" font-family="Liberation Serif, serif" font-size="60" stroke="#fff" stroke-width="0.9" fill="#000" xml:space="preserve">10</text>
<text transform="translate(695.25,534.40) scale(0.9280,1.0350)" font-family="Liberation Serif, serif" font-size="60" stroke="#fff" stroke-width="0.9" fill="#000" xml:space="preserve">12</text>
<text transform="translate(47.2,352.84) rotate(-90) scale(1.0196,1.045)" font-family="Liberation Serif, serif" font-size="57" fill="#000">OSPA</text>
<text transform="translate(107.30,594.30) scale(1.0038,1.0120)" font-family="Liberation Serif, serif" font-size="57" fill="#000" xml:space="preserve">Measurements per agent</text>
<text transform="translate(680.90,591.50) scale(1.0000,1.0200)" font-family="Liberation Serif, serif" font-size="58" stroke="#fff" stroke-width="0.9" fill="#000" xml:space="preserve">(</text>
<text transform="translate(695.08,595.10) scale(1.1844,1.0350)" font-family="Liberation Serif, serif" font-size="61" font-style="italic" stroke="#fff" stroke-width="1.1" fill="#000" xml:space="preserve">T</text>
<line x1="742.7" y1="607.3" x2="762.6" y2="551.8" stroke="#000" stroke-width="2.3"/>
<text transform="translate(769.40,595.10) scale(1.2000,1.0350)" font-family="Liberation Serif, serif" font-size="61" font-style="italic" stroke="#fff" stroke-width="1.1" fill="#000" xml:space="preserve">J</text>
<text transform="translate(802.35,591.50) scale(1.0267,1.0200)" font-family="Liberation Serif, serif" font-size="58" stroke="#fff" stroke-width="0.9" fill="#000" xml:space="preserve">)</text>
<text transform="translate(192.34,47.50) scale(0.9105,1.0300)" font-family="Liberation Serif, serif" font-size="59.5" stroke="#fff" stroke-width="0.9" fill="#000" xml:space="preserve">1</text>
<text transform="translate(219.67,47.50) scale(0.8654,1.0300)" font-family="Liberation Serif, serif" font-size="59.5" stroke="#fff" stroke-width="0.9" fill="#000" xml:space="preserve">0</text>
<text transform="translate(257.05,47.80) scale(1.1906,1.0300)" font-family="Liberation Serif, serif" font-size="60.5" font-style="italic" stroke="#fff" stroke-width="1.1" fill="#000" xml:space="preserve">T</text>
<text transform="translate(302.25,47.80) scale(1.0240,1.0300)" font-family="Liberation Serif, serif" font-size="60.5" font-style="italic" stroke="#fff" stroke-width="1.1" fill="#000" xml:space="preserve">a</text>
<text transform="translate(329.72,47.80) scale(1.1600,1.0300)" font-family="Liberation Serif, serif" font-size="60.5" font-style="italic" stroke="#fff" stroke-width="1.1" fill="#000" xml:space="preserve">r</text>
<text transform="translate(359.10,47.80) scale(0.9893,1.0300)" font-family="Liberation Serif, serif" font-size="60.5" font-style="italic" stroke="#fff" stroke-width="1.1" fill="#000" xml:space="preserve">g</text>
<text transform="translate(388.67,47.80) scale(0.8652,1.0300)" font-family="Liberation Serif, serif" font-size="60.5" font-style="italic" stroke="#fff" stroke-width="1.1" fill="#000" xml:space="preserve">e</text>
<text transform="translate(410.51,47.80) scale(1.2286,1.0300)" font-family="Liberation Serif, serif" font-size="60.5" font-style="italic" stroke="#fff" stroke-width="1.1" fill="#000" xml:space="preserve">t</text>
<text transform="translate(434.73,47.80) scale(1.0750,1.0300)" font-family="Liberation Serif, serif" font-size="60.5" font-style="italic" stroke="#fff" stroke-width="1.1" fill="#000" xml:space="preserve">s</text>
<text transform="translate(462.36,47.50) scale(0.8222,1.1200)" font-family="Liberation Serif, serif" font-size="59.5" fill="#000" xml:space="preserve">,</text>
<text transform="translate(490.71,47.50) scale(0.9316,1.0300)" font-family="Liberation Serif, serif" font-size="59.5" stroke="#fff" stroke-width="0.9" fill="#000" xml:space="preserve">1</text>
<text transform="translate(516.88,47.50) scale(0.9739,1.0300)" font-family="Liberation Serif, serif" font-size="59.5" stroke="#fff" stroke-width="0.9" fill="#000" xml:space="preserve">2</text>
<text transform="translate(563.72,47.80) scale(1.0105,1.0300)" font-family="Liberation Serif, serif" font-size="60.5" font-style="italic" stroke="#fff" stroke-width="1.1" fill="#000" xml:space="preserve">A</text>
<text transform="translate(602.90,47.80) scale(1.0500,1.0300)" font-family="Liberation Serif, serif" font-size="60.5" font-style="italic" stroke="#fff" stroke-width="1.1" fill="#000" xml:space="preserve">g</text>
<text transform="translate(634.05,47.80) scale(0.8739,1.0300)" font-family="Liberation Serif, serif" font-size="60.5" font-style="italic" stroke="#fff" stroke-width="1.1" fill="#000" xml:space="preserve">e</text>
<text transform="translate(656.91,47.80) scale(1.1292,1.0300)" font-family="Liberation Serif, serif" font-size="60.5" font-style="italic" stroke="#fff" stroke-width="1.1" fill="#000" xml:space="preserve">n</text>
<text transform="translate(687.95,47.80) scale(1.2500,1.0300)" font-family="Liberation Serif, serif" font-size="60.5" font-style="italic" stroke="#fff" stroke-width="1.1" fill="#000" xml:space="preserve">t</text>
<text transform="translate(712.56,47.80) scale(1.0450,1.0300)" font-family="Liberation Serif, serif" font-size="60.5" font-style="italic" stroke="#fff" stroke-width="1.1" fill="#000" xml:space="preserve">s</text>
</svg>
</body></html>
